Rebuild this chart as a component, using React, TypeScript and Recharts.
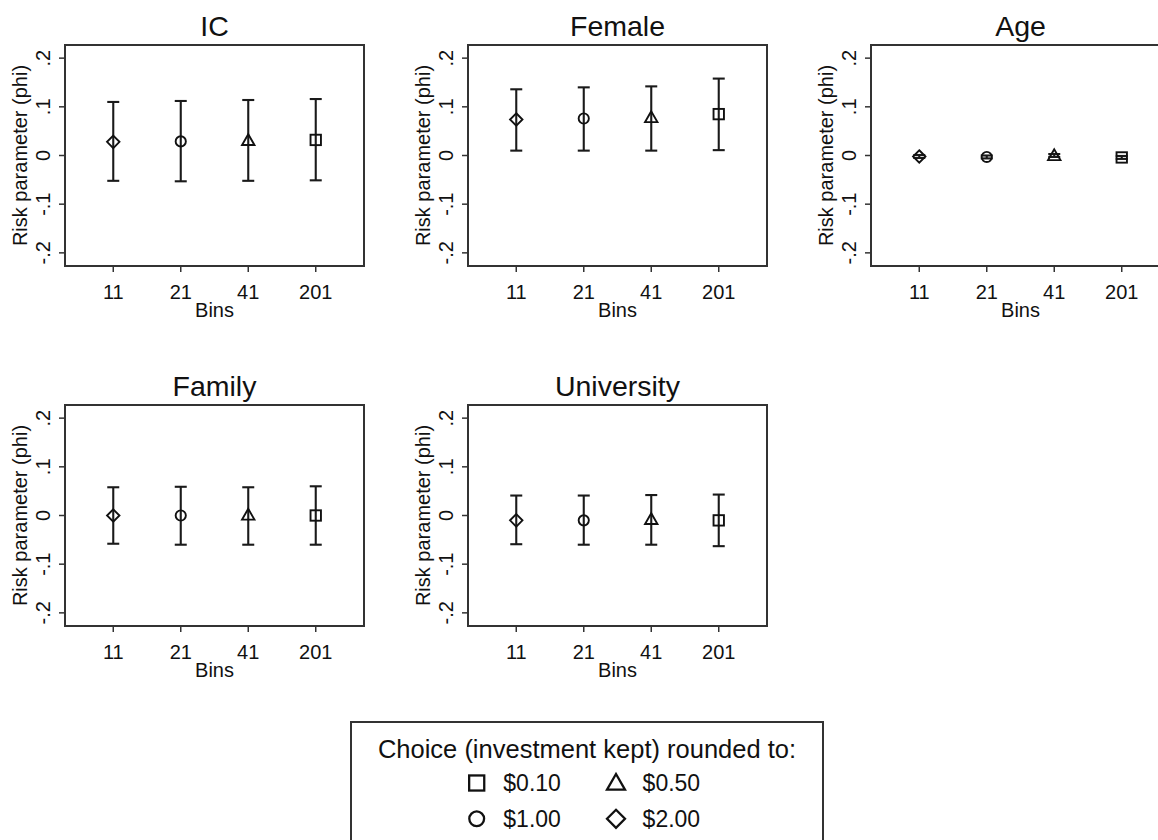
import React from "react";
import { ScatterChart, Scatter, XAxis, YAxis, ErrorBar, ReferenceArea, Legend } from "recharts";

const FONT = "Liberation Sans, Arial, Helvetica, sans-serif";
const INK = "#111";
const LINE = "#333";

const BINS = ["11", "21", "41", "201"];
// marker used at each bin = rounding of the choice
const ROUNDED_TO = ["$2.00", "$1.00", "$0.50", "$0.10"];
const LEGEND_ORDER = ["$0.10", "$0.50", "$1.00", "$2.00"];
const Y_TICKS = [-0.2, -0.1, 0, 0.1, 0.2];
const X_DOMAIN = [0.285, 4.715];
const Y_DOMAIN = [-0.227, 0.227];

const IC_EST = [0.028, 0.029, 0.031, 0.032];
const IC_LO = [-0.052, -0.053, -0.052, -0.051];
const IC_HI = [0.11, 0.112, 0.114, 0.116];

const FEMALE_EST = [0.074, 0.076, 0.078, 0.085];
const FEMALE_LO = [0.01, 0.01, 0.01, 0.011];
const FEMALE_HI = [0.136, 0.14, 0.142, 0.158];

const AGE_EST = [-0.002, -0.003, 0.0, -0.004];
const AGE_LO = [-0.005, -0.006, -0.003, -0.007];
const AGE_HI = [0.001, 0.0, 0.003, -0.001];

const FAMILY_EST = [0.0, 0.0, 0.001, 0.0];
const FAMILY_LO = [-0.058, -0.06, -0.06, -0.06];
const FAMILY_HI = [0.058, 0.059, 0.058, 0.06];

const UNI_EST = [-0.01, -0.01, -0.008, -0.01];
const UNI_LO = [-0.059, -0.06, -0.06, -0.063];
const UNI_HI = [0.041, 0.041, 0.042, 0.043];

const PANELS = [
  { title: "IC", est: IC_EST, lo: IC_LO, hi: IC_HI },
  { title: "Female", est: FEMALE_EST, lo: FEMALE_LO, hi: FEMALE_HI },
  { title: "Age", est: AGE_EST, lo: AGE_LO, hi: AGE_HI },
  { title: "Family", est: FAMILY_EST, lo: FAMILY_LO, hi: FAMILY_HI },
  { title: "University", est: UNI_EST, lo: UNI_LO, hi: UNI_HI },
];

const SHAPE_OF: Record<string, string> = {
  "$2.00": "diamond",
  "$1.00": "circle",
  "$0.50": "triangle",
  "$0.10": "square",
};

function Marker({ kind, cx, cy, s = 1, sw = 1.9 }: { kind: string; cx: number; cy: number; s?: number; sw?: number }) {
  const p = { fill: "none", stroke: INK, strokeWidth: sw };
  if (kind === "circle") return <circle cx={cx} cy={cy} r={5.1 * s} {...p} />;
  if (kind === "square") {
    const h = 5.2 * s;
    return <rect x={cx - h} y={cy - h} width={2 * h} height={2 * h} {...p} />;
  }
  if (kind === "triangle") {
    const pts = [
      [cx, cy - 6.2 * s],
      [cx - 6.2 * s, cy + 4.6 * s],
      [cx + 6.2 * s, cy + 4.6 * s],
    ];
    return <polygon points={pts.map((q) => q.join(",")).join(" ")} strokeLinejoin="miter" {...p} />;
  }
  const d = 6.2 * s;
  return <polygon points={`${cx},${cy - d} ${cx + d},${cy} ${cx},${cy + d} ${cx - d},${cy}`} {...p} />;
}

function YTick({ x, y, payload }: any) {
  const v = payload.value;
  const label = v === 0 ? "0" : v.toFixed(1).replace("0.", ".");
  return (
    <text transform={`translate(${x},${y}) rotate(-90)`} textAnchor="middle" fontSize={20} fontFamily={FONT} fill={INK}>
      {label}
    </text>
  );
}

function LegendBox({ payload }: any) {
  const items = LEGEND_ORDER.map((name) => (payload || []).find((p: any) => p.value === name)).filter(Boolean);
  return (
    <svg width={474} height={130} style={{ display: "block" }}>
      <rect x={1} y={1} width={472} height={150} fill="#fff" stroke={LINE} strokeWidth={2} />
      <text x={237} y={36.6} textAnchor="middle" fontSize={25.5} fontFamily={FONT} fill={INK}>
        Choice (investment kept) rounded to:
      </text>
      {items.map((p: any, i: number) => {
        const col = i % 2;
        const row = Math.floor(i / 2);
        const mx = 126.7 + col * 139.3;
        const my = 62 + row * 35.8;
        return (
          <g key={p.value}>
            <Marker kind={SHAPE_OF[p.value]} cx={mx} cy={my} s={1.45} sw={2.3} />
            <text x={mx + 26.6} y={my + 8.2} fontSize={23} fontFamily={FONT} fill={INK}>
              {p.value}
            </text>
          </g>
        );
      })}
    </svg>
  );
}

function Panel({ title, est, lo, hi, left, top, withLegend }: any) {
  const series = BINS.map((bin, i) => ({
    name: ROUNDED_TO[i],
    data: [{ x: i + 1, y: est[i], err: [est[i] - lo[i], hi[i] - est[i]] }],
  }));
  return (
    <div style={{ position: "absolute", left, top, width: 403, height: 340 }}>
      <div
        style={{
          position: "absolute",
          left: 65,
          top: 12,
          width: 299,
          textAlign: "center",
          fontSize: 28.5,
          lineHeight: "28px",
          fontFamily: FONT,
          color: INK,
        }}
      >
        {title}
      </div>
      <ScatterChart width={403} height={340} margin={{ top: 45, right: 39, bottom: 0, left: 0 }}>
        <XAxis
          type="number"
          dataKey="x"
          domain={X_DOMAIN}
          ticks={[1, 2, 3, 4]}
          interval={0}
          tickFormatter={(v) => BINS[v - 1]}
          tick={{ fontSize: 20, fill: INK, fontFamily: FONT }}
          tickLine={{ stroke: LINE, strokeWidth: 1.5 }}
          tickSize={6}
          tickMargin={13}
          axisLine={false}
          height={74}
          label={{ value: "Bins", position: "insideBottom", offset: 23, fontSize: 20, fill: INK, fontFamily: FONT }}
        />
        <YAxis
          type="number"
          dataKey="y"
          domain={Y_DOMAIN}
          ticks={Y_TICKS}
          interval={0}
          tick={<YTick />}
          tickLine={{ stroke: LINE, strokeWidth: 1.5 }}
          tickSize={6}
          tickMargin={9}
          axisLine={false}
          width={65}
          label={{
            value: "Risk parameter (phi)",
            angle: -90,
            position: "insideLeft",
            offset: 20,
            fontSize: 20,
            fill: INK,
            fontFamily: FONT,
            style: { textAnchor: "middle" },
          }}
        />
        <ReferenceArea
          x1={X_DOMAIN[0]}
          x2={X_DOMAIN[1]}
          y1={Y_DOMAIN[0]}
          y2={Y_DOMAIN[1]}
          fill="none"
          stroke={LINE}
          strokeWidth={2}
          ifOverflow="visible"
        />
        {series.map((s) => (
          <Scatter
            key={s.name}
            name={s.name}
            data={s.data}
            fill={INK}
            isAnimationActive={false}
            shape={(props: any) => <Marker kind={SHAPE_OF[s.name]} cx={props.cx} cy={props.cy} />}
          >
            <ErrorBar dataKey="err" direction="y" width={6} stroke="#1a1a1a" strokeWidth={2.1} isAnimationActive={false} />
          </Scatter>
        ))}
        {withLegend && (
          <Legend
            layout="horizontal"
            verticalAlign="middle"
            align="center"
            content={<LegendBox />}
            wrapperStyle={{ left: -53, top: 360.7, width: 474, height: 130 }}
          />
        )}
      </ScatterChart>
    </div>
  );
}

export default function App() {
  return (
    <div
      style={{
        position: "absolute",
        left: 0,
        top: 0,
        width: 1158,
        height: 840,
        overflow: "hidden",
        background: "#fff",
      }}
    >
      {PANELS.map((p, i) => (
        <Panel
          key={p.title}
          {...p}
          left={(i % 3) * 403}
          top={Math.floor(i / 3) * 360}
          withLegend={i === PANELS.length - 1}
        />
      ))}
    </div>
  );
}
